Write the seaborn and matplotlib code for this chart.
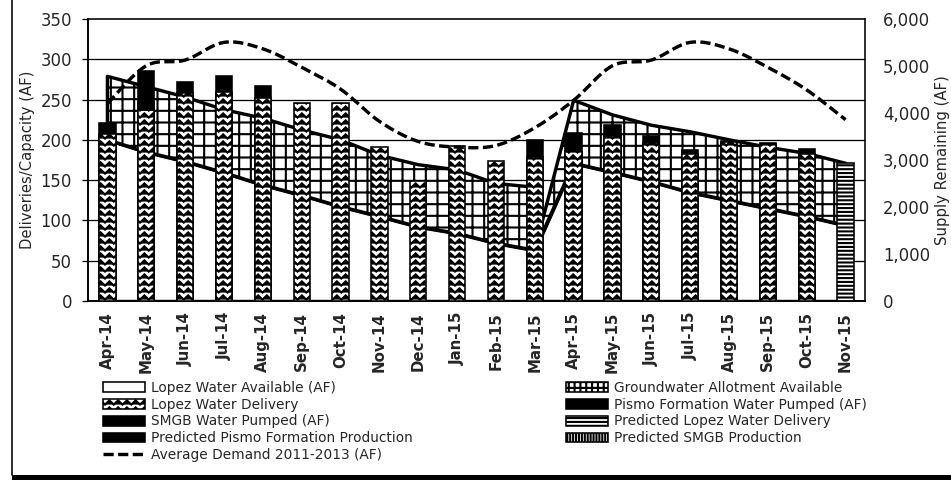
import numpy as np
import pandas as pd
import matplotlib
matplotlib.use("Agg")
import matplotlib.pyplot as plt
import seaborn as sns
import matplotlib.hatch as mhatch
from matplotlib.path import Path
from matplotlib.patches import Patch, Rectangle
from matplotlib.lines import Line2D

# ---------------- data ----------------
months = ["Apr-14", "May-14", "Jun-14", "Jul-14", "Aug-14", "Sep-14", "Oct-14",
          "Nov-14", "Dec-14", "Jan-15", "Feb-15", "Mar-15", "Apr-15", "May-15",
          "Jun-15", "Jul-15", "Aug-15", "Sep-15", "Oct-15", "Nov-15"]

# left axis (AF)
lopez_delivery = [207, 237, 258, 260, 252, 246, 246, 191, 149, 192, 174, 179,
                  186, 205, 196, 182, 197, 195, 182, 0]
pismo_pumped = [14, 10, 14, 19, 15, 0, 0, 0, 0, 0, 0, 21,
                23, 14, 9, 5, 1, 1, 7, 0]
smgb_pumped = [0, 38, 0, 0, 0, 0, 0, 0, 0, 0, 0, 0,
               0, 0, 0, 0, 0, 0, 0, 0]
pred_lopez = [0] * 19 + [171]
pred_smgb = [0] * 20
pred_pismo = [0] * 20
avg_demand = [245, 292, 299, 321, 313, 290, 263, 223, 198, 191, 193, 215,
              249, 292, 299, 321, 313, 290, 262, 225]

# right axis (Supply Remaining, AF)
lopez_available = [3430, 3170, 2970, 2730, 2470, 2250, 2010, 1800, 1580, 1440,
                   1230, 1080, 2930, 2740, 2540, 2310, 2140, 1970, 1800, 1610]
gw_available = [1350, 1390, 1370, 1340, 1420, 1390, 1420, 1300, 1320, 1350,
                1270, 1340, 1340, 1220, 1200, 1290, 1290, 1300, 1340, 1320]
gw_reset_month = "Mar-15"   # allotment falls to zero at the end of this month

left_ticks = [0, 50, 100, 150, 200, 250, 300, 350]
right_ticks = [0, 1000, 2000, 3000, 4000, 5000, 6000]

# ---------------- custom zig-zag hatch ('*') ----------------
class ZigZagHatch(mhatch.HatchPatternBase):
    def __init__(self, hatch, density):
        self.num_rows = hatch.count('*') * 10
        self.teeth = 8
        self.num_vertices = self.num_rows * (2 * self.teeth + 1)

    def set_vertices_and_codes(self, vertices, codes):
        n = 2 * self.teeth + 1
        xs = np.linspace(0, 1, n)
        amp = 0.3 / max(self.num_rows, 1)
        offs = np.where(np.arange(n) % 2 == 0, -amp, amp)
        for r in range(self.num_rows):
            y0 = (r + 0.5) / self.num_rows
            s = slice(r * n, (r + 1) * n)
            vertices[s, 0] = xs
            vertices[s, 1] = y0 + offs
            codes[s] = Path.LINETO
            codes[r * n] = Path.MOVETO

mhatch._hatch_types = [t for t in mhatch._hatch_types if t is not mhatch.Stars] + [ZigZagHatch]

# ---------------- style ----------------
DPI = 70
PT = 72.0 / DPI          # points per pixel
sns.set_style("white")
plt.rcParams['font.family'] = ['DejaVu Sans']
plt.rcParams['hatch.linewidth'] = 2.1 * PT
plt.rcParams['hatch.color'] = 'black'

fig = plt.figure(figsize=(951 / DPI, 480 / DPI), dpi=DPI)
fig.subplots_adjust(left=88 / 951, right=865 / 951, bottom=(480 - 301) / 480, top=(480 - 19) / 480)
ax = fig.add_subplot(111)
ax2 = ax.twinx()
ax.set_zorder(ax2.get_zorder() + 1)
ax.patch.set_visible(False)

L_MAX, R_MAX = left_ticks[-1], right_ticks[-1]
ax.set_ylim(0, L_MAX)
ax2.set_ylim(0, R_MAX)

# grid (left-axis ticks), drawn behind the areas
for t in left_ticks[1:-1]:
    ax2.axhline(t * R_MAX / L_MAX, color='black', lw=1.3 * PT, zorder=0)

# ---------------- areas (right axis) ----------------
idx = np.arange(len(months))
reset_i = months.index(gw_reset_month)
xa, lo, top = [], [], []
for i in idx:
    xa.append(i); lo.append(lopez_available[i]); top.append(lopez_available[i] + gw_available[i])
    if i == reset_i:
        xa.append(i); lo.append(lopez_available[i]); top.append(lopez_available[i])
xa, lo, top = np.array(xa, float), np.array(lo, float), np.array(top, float)

ax2.fill_between(xa, 0, lo, facecolor='white', edgecolor='black', lw=3.4 * PT, zorder=1)
ax2.fill_between(xa, lo, top, facecolor='white', edgecolor='black', hatch='+',
                 lw=3.4 * PT, zorder=2)

# ---------------- bars (left axis) via seaborn, stacked by overlay ----------------
bw = 0.42
blw = 1.6 * PT
stack = [
    (lopez_delivery, dict(color='white', hatch='*')),
    (pismo_pumped, dict(color='black')),
    (smgb_pumped, dict(color='black')),
    (pred_lopez, dict(color='white', hatch='---')),
    (pred_smgb, dict(color='white', hatch='||||')),
    (pred_pismo, dict(color='black')),
]
cum = np.zeros(len(months))
layers = []
for vals, kw in stack:
    v = np.array(vals, float)
    cum = cum + v
    layers.append((np.where(v > 0, cum, np.nan), kw))
for heights, kw in reversed(layers):   # tallest cumulative first, lower segments over it
    if np.all(np.isnan(heights)):
        continue
    df = pd.DataFrame({'month': months, 'v': heights})
    sns.barplot(data=df, x='month', y='v', order=months, width=bw, saturation=1,
                errorbar=None, linewidth=blw, edgecolor='black', ax=ax, zorder=3, **kw)

# ---------------- average demand (smoothed dashed line) ----------------
def catmull(xs, ys, n=12):
    P = np.column_stack([xs, ys]).astype(float)
    E = np.vstack([P[0], P, P[-1]])
    out = []
    t = np.linspace(0, 1, n, endpoint=False)[:, None]
    for i in range(len(P) - 1):
        p0, p1, p2, p3 = E[i], E[i + 1], E[i + 2], E[i + 3]
        out.append(0.5 * (2 * p1 + (-p0 + p2) * t + (2 * p0 - 5 * p1 + 4 * p2 - p3) * t ** 2
                          + (-p0 + 3 * p1 - 3 * p2 + p3) * t ** 3))
    out.append(P[-1][None, :])
    return np.vstack(out)

sm = catmull(idx, avg_demand)
sns.lineplot(x=sm[:, 0], y=sm[:, 1], sort=False, estimator=None, ax=ax,
             color='black', lw=3.4 * PT, zorder=5)
dash_line = ax.get_lines()[-1]
dash_line.set_linestyle((0, (3.0, 1.3)))
dash_line.set_dash_capstyle('butt')

# ---------------- axes cosmetics ----------------
ax.set_xlim(-0.5, len(months) - 0.5)
ax.set_xlabel('')
ax.set_ylabel('Deliveries/Capacity (AF)', fontsize=14.8 * PT, labelpad=5 * PT)
ax.set_yticks(left_ticks)
ax.set_yticklabels([str(t) for t in left_ticks], fontsize=16.5 * PT)
ax.set_xticks(idx)
ax.set_xticklabels(months, rotation=90, fontsize=15 * PT, fontweight='bold')
ax.set_xticks(np.arange(len(months) + 1) - 0.5, minor=True)
ax.tick_params(axis='x', which='major', length=0, pad=11 * PT)
ax.tick_params(axis='x', which='minor', length=4 * PT, width=1 * PT, direction='out', color='black')
ax.tick_params(axis='y', length=6 * PT, width=1.3 * PT, direction='out', pad=10 * PT, color='black')

ax2.set_yticks(right_ticks)
ax2.set_yticklabels([f"{t:,}" for t in right_ticks], fontsize=16.5 * PT)
ax2.tick_params(axis='y', length=0, pad=18 * PT)
ax2.set_ylabel('Supply Remaining (AF)', fontsize=14.9 * PT, rotation=90, labelpad=5 * PT)

for a in (ax, ax2):
    for s in a.spines.values():
        s.set_color('black')
        s.set_linewidth(1.6 * PT)
ax.spines['right'].set_visible(False)
ax.spines['top'].set_visible(False)

# ---------------- legends ----------------
hl = 1.6 * PT
left_handles = [
    Patch(facecolor='white', edgecolor='black', lw=hl, label='Lopez Water Available (AF)'),
    Patch(facecolor='white', edgecolor='black', lw=hl, hatch='*', label='Lopez Water Delivery'),
    Patch(facecolor='black', edgecolor='black', lw=hl, label='SMGB Water Pumped (AF)'),
    Patch(facecolor='black', edgecolor='black', lw=hl, label='Predicted Pismo Formation Production'),
    Line2D([], [], color='black', lw=3.4 * PT, linestyle=(0, (3.0, 1.3)), dash_capstyle='butt',
           label='Average Demand 2011-2013 (AF)'),
]
right_handles = [
    Patch(facecolor='white', edgecolor='black', lw=hl, hatch='++', label='Groundwater Allotment Available'),
    Patch(facecolor='black', edgecolor='black', lw=hl, label='Pismo Formation Water Pumped (AF)'),
    Patch(facecolor='white', edgecolor='black', lw=hl, hatch='---', label='Predicted Lopez Water Delivery'),
    Patch(facecolor='white', edgecolor='black', lw=hl, hatch='||||', label='Predicted SMGB Production'),
]
LF = 13.7
common = dict(loc='upper left', frameon=False, borderpad=0, borderaxespad=0,
              fontsize=LF * PT, handlelength=42 / LF, handleheight=10 / LF,
              handletextpad=6 / LF, labelspacing=0.2)
fig.legend(handles=left_handles, bbox_to_anchor=(103 / 951, 1 - 381 / 480), **common)
fig.legend(handles=right_handles, bbox_to_anchor=(566 / 951, 1 - 381 / 480), **common)

# ---------------- outer frame ----------------
fig.add_artist(Line2D([12 / 951, 12 / 951], [5 / 480, 1], transform=fig.transFigure,
                      color='black', lw=1.6 * PT))
fig.add_artist(Rectangle((12 / 951, 0), 1 - 12 / 951, 5 / 480, transform=fig.transFigure,
                         facecolor='black', edgecolor='none'))

fig.savefig('out.png', dpi=DPI)
